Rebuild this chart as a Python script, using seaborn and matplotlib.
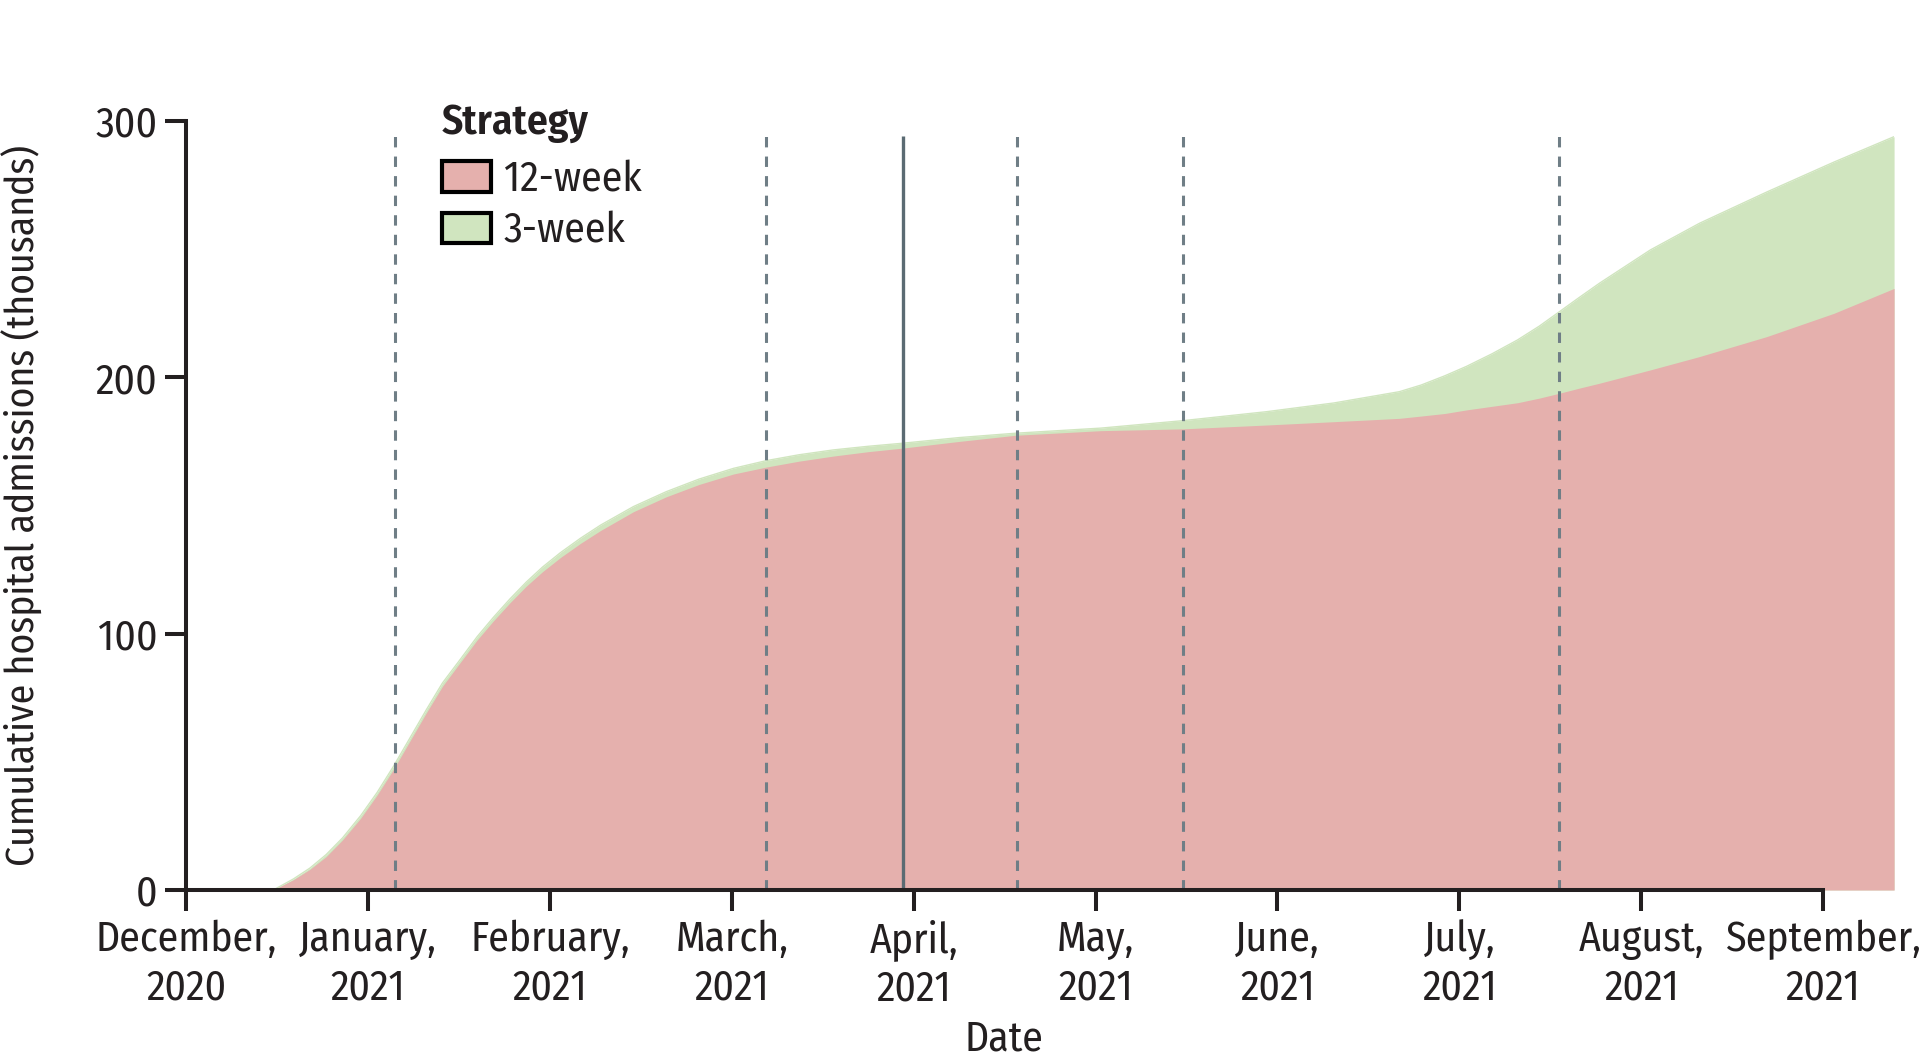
import matplotlib
matplotlib.use("Agg")
import matplotlib.pyplot as plt
from matplotlib.patches import Patch
import seaborn as sns
import pandas as pd

# ---- data (x = months since 1 December 2020, y = thousands) ----
months = [0.48, 0.59, 0.68, 0.77, 0.86, 0.96, 1.05, 1.14, 1.23, 1.32, 1.41, 1.51,
          1.60, 1.69, 1.78, 1.87, 1.96, 2.06, 2.17, 2.28, 2.46, 2.64, 2.82, 3.01,
          3.19, 3.37, 3.56, 3.75, 3.94, 4.25, 4.56, 5.03, 5.48, 5.94, 6.31, 6.67,
          6.79, 6.92, 7.04, 7.18, 7.32, 7.44, 7.55, 7.66, 7.77, 8.05, 8.32, 8.69,
          9.06, 9.39]
week12 = [0, 4, 8, 13, 19.5, 28, 37, 47, 58, 69, 79.5, 89,
          97.5, 105, 112, 118.5, 124.2, 129.8, 135.3, 140.3, 147.6, 153.4, 158.2, 162.3,
          165, 167.3, 169.3, 171, 172.4, 175, 177.4, 179.2, 179.9, 181.4, 182.7, 184,
          184.9, 185.9, 187.3, 188.7, 190.1, 191.9, 193.8, 195.8, 197.7, 202.9, 208.1, 215.9,
          225, 234.7]
week3 = [0, 4.3, 8.5, 13.8, 20.3, 29, 38, 48.2, 59.2, 70.2, 80.8, 90.2,
         98.8, 106.4, 113.5, 120.1, 126, 131.7, 137.3, 142.4, 149.6, 155.4, 160.3, 164.5,
         167.5, 169.8, 171.7, 173.1, 174.3, 176.5, 178.2, 180.2, 183.1, 186.6, 190, 194.4,
         197, 200.6, 204.3, 209.2, 214.6, 220, 225.6, 231.2, 236.7, 249.7, 260.1, 272.3,
         284, 293.9]
dashed_lines = [1.150, 3.188, 4.567, 5.482, 7.547]
solid_lines = [3.942]
tick_pos = [0, 1, 2, 3, 4, 5, 6, 7, 8, 9]
tick_labels = ["December,\n2020", "January,\n2021", "February,\n2021", "March,\n2021",
               "April,\n2021", "May,\n2021", "June,\n2021", "July,\n2021",
               "August,\n2021", "September,\n2021"]
y_ticks = [0, 100, 200, 300]
strategies = ["12-week", "3-week"]

RED = "#e5b0ad"
GREEN = "#d0e5bf"
INK = "#231f20"

df = pd.DataFrame({"month": months, "12-week": week12, "3-week": week3})

sns.set_theme(style="ticks")
plt.rcParams["font.family"] = ["Fira Sans Condensed", "PT Sans Narrow", "DejaVu Sans"]
FS = 30

fig = plt.figure(figsize=(19.2, 10.57), dpi=100)
ax = fig.add_axes([0.0969, 0.158, 0.8896, 0.7275])

ax.fill_between(df["month"], 0, df["3-week"], color=GREEN, lw=0, zorder=1)
ax.fill_between(df["month"], 0, df["12-week"], color=RED, lw=0, zorder=2)
sns.lineplot(data=df, x="month", y="3-week", ax=ax, color=GREEN, lw=1, zorder=1.5)

for xv in dashed_lines:
    ax.vlines(xv, 0, 294, colors="#6f7e86", lw=2.2, linestyles=(0, (3.4, 3.0)), zorder=3)
for xv in solid_lines:
    ax.vlines(xv, 0, 294, colors="#5b6b73", lw=2.4, zorder=3)

ax.set_xlim(0, 9.39)
ax.set_ylim(0, 300)
ax.set_xticks(tick_pos)
ax.set_xticklabels(tick_labels, fontsize=FS, linespacing=1.25)
ax.set_yticks(y_ticks)
ax.set_yticklabels([str(v) for v in y_ticks], fontsize=FS)
ax.tick_params(axis="both", length=15, width=2.9, color=INK, labelcolor=INK)
ax.tick_params(axis="x", pad=5.7)
ax.tick_params(axis="y", pad=5.5)

sns.despine(ax=ax)
ax.spines["left"].set_bounds(0, 300)
ax.spines["bottom"].set_bounds(0, 9)
for s in ("left", "bottom"):
    ax.spines[s].set_linewidth(2.9)
    ax.spines[s].set_color(INK)
    ax.spines[s].set_zorder(4)

ax.set_xlabel("Date", fontsize=FS, color=INK)
ax.set_ylabel("Cumulative hospital admissions (thousands)", fontsize=28.5, color=INK)
ax.xaxis.set_label_coords(0.479, -0.167)
ax.yaxis.set_label_coords(-0.0835, 0.5)

ax.text(0.1499, 0.984, "Strategy", transform=ax.transAxes, fontsize=FS,
        fontweight="semibold", color=INK, ha="left", va="baseline")
handles = [Patch(facecolor=RED, edgecolor="black", lw=3, label=strategies[0]),
           Patch(facecolor=GREEN, edgecolor="black", lw=3, label=strategies[1])]
leg = ax.legend(handles=handles, loc="upper left",
                bbox_to_anchor=(0.1499, 0.9504), frameon=False, fontsize=FS,
                borderaxespad=0, borderpad=0, handlelength=1.18, handleheight=0.745,
                handletextpad=0.3, labelspacing=0.26)
for t in leg.get_texts():
    t.set_color(INK)

fig.savefig("out.png", dpi=100)
